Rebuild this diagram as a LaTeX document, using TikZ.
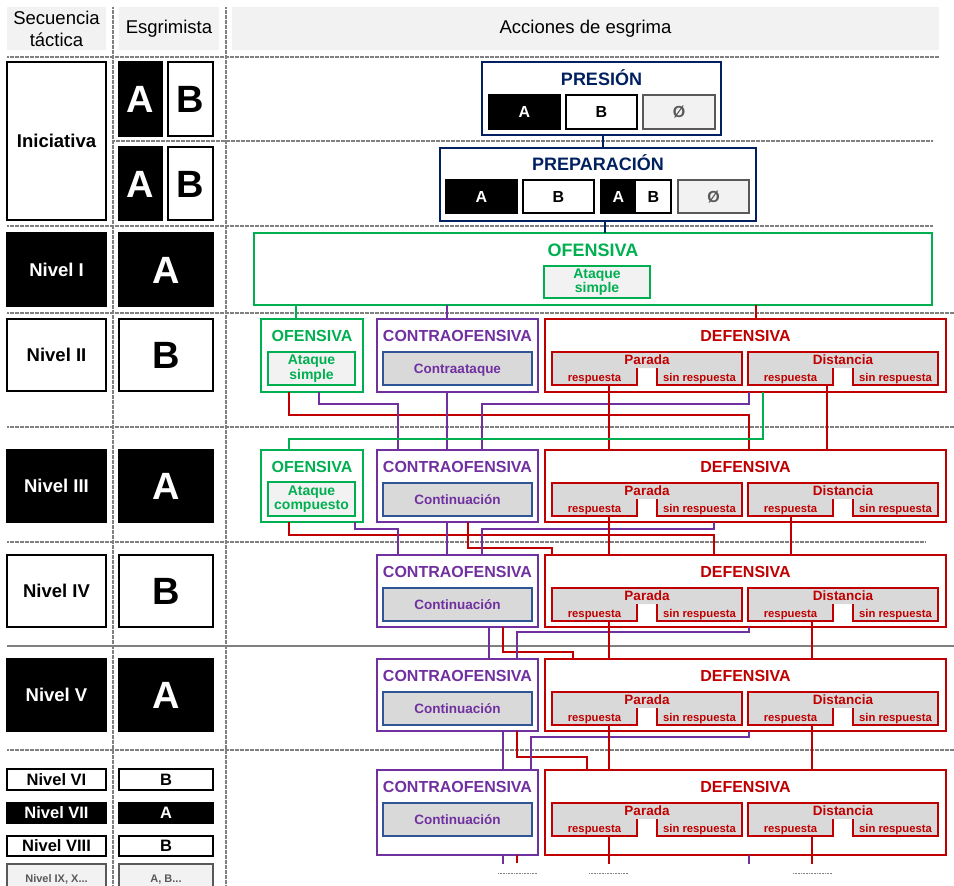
\documentclass[tikz,border=0pt]{standalone}
\usepackage{fontspec}
\setmainfont{Liberation Sans}
\usepackage{xcolor}
\usepackage{tikz}

\definecolor{navyc}{HTML}{002060}
\definecolor{greenc}{HTML}{00B050}
\definecolor{purpc}{HTML}{7030A0}
\definecolor{redc}{HTML}{C00000}
\definecolor{bluec}{HTML}{2F5597}
\definecolor{lgray}{HTML}{F2F2F2}
\definecolor{mgray}{HTML}{D9D9D9}
\definecolor{sepgray}{HTML}{808080}
\definecolor{dgray}{HTML}{595959}

\begin{document}
\begin{tikzpicture}[
    x=1pt, y=-1pt,
    font=\fontsize{14}{16}\selectfont,
    wh/.style 2 args={minimum width=#1pt, minimum height=#2pt, anchor=north west, inner sep=0pt, outer sep=0pt},
    hdr/.style={fill=lgray, align=center, font=\fontsize{18.5}{22}\selectfont},
    gridline/.style={draw=sepgray, line width=1.5pt, dash pattern=on 2pt off 0.5pt},
    cell/.style={draw=black, line width=1.8pt, fill=white, text height=13.3pt, text depth=0pt, font=\bfseries\fontsize{18.5}{20}\selectfont},
    darkcell/.style={fill=black, text=white},
    bigcell/.style={text height=27.4pt, font=\bfseries\fontsize{38}{40}\selectfont},
    smallcell/.style={text height=11.9pt, font=\bfseries\fontsize{16.5}{18}\selectfont},
    restcell/.style={draw=dgray, fill=lgray, text=dgray, text height=7.9pt, font=\bfseries\fontsize{11}{12}\selectfont},
    actframe/.style={draw, line width=1.6pt, inner sep=0pt, outer sep=0pt},
    ttl/.style={inner sep=0pt, text height=11.5pt, text depth=0pt, font=\bfseries\fontsize{16}{18}\selectfont},
    bigttl/.style={ttl, text height=13pt, font=\bfseries\fontsize{18}{20}\selectfont},
    letbox/.style={draw=black, line width=1.6pt, fill=white, text height=11.5pt, text depth=0pt, font=\bfseries\fontsize{16}{18}\selectfont},
    nullbox/.style={letbox, draw=dgray, fill=lgray, text=dgray},
    lettxt/.style={inner sep=0pt, text height=11.5pt, text depth=0pt, font=\bfseries\fontsize{16}{18}\selectfont},
    osub/.style={draw=greenc, line width=1.6pt, fill=lgray, text=greenc, align=center, font=\bfseries\fontsize{14}{14.7}\selectfont},
    csub/.style={draw=bluec, line width=1.6pt, fill=mgray, text=purpc, text height=9.7pt, text depth=0pt, font=\bfseries\fontsize{13.5}{15}\selectfont},
    dhead/.style={inner sep=0pt, text=redc, text height=9.7pt, text depth=0pt, font=\bfseries\fontsize{13.5}{15}\selectfont},
    dsub/.style={text=redc, text height=9pt, text depth=0pt, font=\bfseries\fontsize{11.3}{12}\selectfont},
    nl/.style={draw=navyc, line width=1.4pt},
    gl/.style={draw=greenc, line width=1.4pt},
    pl/.style={draw=purpc, line width=1.4pt},
    rl/.style={draw=redc, line width=1.4pt}
  ]
    \useasboundingbox (0,0) rectangle (954,886);

    % Grid
    \draw[gridline] (7,57) -- (939,57);
    \draw[gridline] (113,141) -- (933,141);
    \draw[gridline] (7,226) -- (933,226);
    \draw[gridline] (7,313) -- (954,313);
    \draw[gridline] (7,427) -- (954,427);
    \draw[gridline] (7,542) -- (926,542);
    \draw[gridline, solid] (7,646) -- (954,646);
    \draw[gridline] (7,750) -- (954,750);
    \draw[gridline] (113,7) -- (113,886);
    \draw[gridline] (226,7) -- (226,886);

    % Headers
    \node[hdr, wh={99}{43}] (hsec) at (7,7) {Secuencia\\táctica};
    \node[hdr, wh={100}{43}] (hesg) at (119,7) {Esgrimista};
    \node[hdr, wh={707}{43}] (hacc) at (232,7) {Acciones de esgrima};

    % Tactical sequence and fencer
    \node[cell, wh={99}{158}] (ini) at (7,62) {Iniciativa};
    \node[cell, darkcell, bigcell, wh={43}{74}] (ea1) at (119,62) {A};
    \node[cell, bigcell, wh={45}{74}] (eb1) at (168,62) {B};
    \node[cell, darkcell, bigcell, wh={43}{73}] (ea2) at (119,147) {A};
    \node[cell, bigcell, wh={45}{73}] (eb2) at (168,147) {B};

    \node[cell, darkcell, wh={99}{73}] (n1) at (7,233) {Nivel I};
    \node[cell, darkcell, bigcell, wh={94}{73}] (e1) at (119,233) {A};
    \node[cell, wh={99}{72}] (n2) at (7,319) {Nivel II};
    \node[cell, bigcell, wh={94}{72}] (e2) at (119,319) {B};
    \node[cell, darkcell, wh={99}{72}] (n3) at (7,450) {Nivel III};
    \node[cell, darkcell, bigcell, wh={94}{72}] (e3) at (119,450) {A};
    \node[cell, wh={99}{72}] (n4) at (7,555) {Nivel IV};
    \node[cell, bigcell, wh={94}{72}] (e4) at (119,555) {B};
    \node[cell, darkcell, wh={99}{72}] (n5) at (7,659) {Nivel V};
    \node[cell, darkcell, bigcell, wh={94}{72}] (e5) at (119,659) {A};

    \node[cell, smallcell, wh={99}{21}] (n6) at (7,769) {Nivel VI};
    \node[cell, smallcell, wh={94}{21}] (e6) at (119,769) {B};
    \node[cell, darkcell, smallcell, wh={99}{20}] (n7) at (7,803) {Nivel VII};
    \node[cell, darkcell, smallcell, wh={94}{20}] (e7) at (119,803) {A};
    \node[cell, smallcell, wh={99}{20}] (n8) at (7,836) {Nivel VIII};
    \node[cell, smallcell, wh={94}{20}] (e8) at (119,836) {B};
    \node[cell, restcell, wh={99}{30}] (n9) at (7,864) {Nivel IX, X...};
    \node[cell, restcell, wh={94}{30}] (e9) at (119,864) {A, B...};

    % Presion
    \node[actframe, draw=navyc, wh={239}{73}] (pres) at (482,62) {};
    \node[bigttl, text=navyc] (prest) at ([yshift=-17pt]pres.north) {PRESIÓN};
    \node[letbox, fill=black, text=white, wh={71}{34}] (pa) at (489,95) {A};
    \node[letbox, wh={71}{34}] (pb) at (566,95) {B};
    \node[nullbox, wh={72}{34}] (pn) at (643,95) {Ø};

    % Preparacion
    \node[actframe, draw=navyc, wh={316}{73}] (prep) at (440,148) {};
    \node[bigttl, text=navyc] (prept) at ([yshift=-16pt]prep.north) {PREPARACIÓN};
    \node[letbox, fill=black, text=white, wh={71}{33}] (qa) at (446,180) {A};
    \node[letbox, wh={71}{33}] (qb) at (523,180) {B};
    \node[letbox, wh={70}{33}] (qab) at (601,180) {};
    \fill (qab.north west) rectangle (qab.south);
    \node[lettxt, text=white] (qabA) at (618.5,196.5) {A};
    \node[lettxt] (qabB) at (653.5,196.5) {B};
    \node[nullbox, wh={71}{33}] (qn) at (678,180) {Ø};

    % Ofensiva (Nivel I)
    \node[actframe, draw=greenc, wh={678}{72}] (of1) at (254,233) {};
    \node[bigttl, text=greenc] (of1t) at ([yshift=-17pt]of1.north) {OFENSIVA};
    \node[osub, wh={106}{32}] (of1s) at (544,266) {Ataque\\simple};

    % Ofensiva (Nivel II, III)
    \node[actframe, draw=greenc, wh={102}{73}] (of2) at (261,319) {};
    \node[ttl, text=greenc] (of2t) at ([yshift=-17pt]of2.north) {OFENSIVA};
    \node[osub, wh={87}{33}] (of2s) at (268,352) {Ataque\\simple};
    \node[actframe, draw=greenc, wh={102}{72}] (of3) at (261,450) {};
    \node[ttl, text=greenc] (of3t) at ([yshift=-17pt]of3.north) {OFENSIVA};
    \node[osub, wh={87}{34}] (of3s) at (268,482) {Ataque\\compuesto};

    % Contraofensiva and Defensiva per level
    \foreach \n/\t/\h/\s in {2/319/73/Contraataque, 3/450/72/Continuación, 4/555/72/Continuación, 5/659/72/Continuación, 6/770/85/Continuación} {
      \node[actframe, draw=purpc, wh={161}{\h}] (co\n) at (377,\t) {};
      \node[ttl, text=purpc] (cot\n) at ([yshift=-17pt]co\n.north) {CONTRAOFENSIVA};
      \node[csub, wh={149}{33}] (cos\n) at (383,{\t+33}) {\s};

      \node[actframe, draw=redc, wh={401}{\h}] (de\n) at (545,\t) {};
      \node[ttl, text=redc] (det\n) at ([yshift=-17pt]de\n.north) {DEFENSIVA};
      \foreach \dx/\nm/\hd in {0/pr/Parada, 196/dr/Distancia} {
        \fill[mgray] ({552+\dx},{\t+33}) -- ({742+\dx},{\t+33}) -- ({742+\dx},{\t+66}) -- ({657+\dx},{\t+66})
          -- ({657+\dx},{\t+49}) -- ({637+\dx},{\t+49}) -- ({637+\dx},{\t+66}) -- ({552+\dx},{\t+66}) -- cycle;
        \draw[redc, line width=1.6pt] ({637+\dx},{\t+49}) -- ({637+\dx},{\t+66}) -- ({552+\dx},{\t+66}) -- ({552+\dx},{\t+33})
          -- ({742+\dx},{\t+33}) -- ({742+\dx},{\t+66}) -- ({657+\dx},{\t+66}) -- ({657+\dx},{\t+49});
        \node[dhead] (h\nm\n) at ({647+\dx},{\t+41}) {\hd};
        \node[dsub, wh={85}{17}] (\nm\n) at ({552+\dx},{\t+49}) {respuesta};
        \node[dsub, wh={85}{17}] (s\nm\n) at ({657+\dx},{\t+49}) {sin respuesta};
      }
    }

    % Iniciativa -> Nivel I
    \draw[nl] (pres.south -| 603,0) -- (prep.north -| 603,0);
    \draw[nl] (prep.south -| 605,0) -- (of1.north -| 605,0);

    % Nivel I -> Nivel II
    \draw[gl] (of1.south -| 296,0) -- (of2.north -| 296,0);
    \draw[pl] (of1.south -| 447,0) -- (co2.north -| 447,0);
    \draw[rl] (of1.south -| 756,0) -- (de2.north -| 756,0);

    % Nivel II -> Nivel III
    \draw[rl] (of2.south -| 289,0) |- (749,415) -- (de3.north -| 749,0);
    \draw[pl] (of2.south -| 319,0) |- (398,404) -- (co3.north -| 398,0);
    \draw[pl] (co2.south -| 447,0) -- (co3.north -| 447,0);
    \draw[pl] (de2.south -| 749,0) |- (482,404) -- (co3.north -| 482,0);
    \draw[rl] (pr2.south -| 609,0) -- (de3.north -| 609,0);
    \draw[gl] (de2.south -| 763,0) |- (289,439) -- (of3.north -| 289,0);
    \draw[rl] (dr2.south -| 827,0) -- (de3.north -| 827,0);

    % Nivel III -> Nivel IV
    \draw[rl] (of3.south -| 289,0) |- (714,535) -- (de4.north -| 714,0);
    \draw[pl] (of3.south -| 355,0) |- (398,529) -- (co4.north -| 398,0);
    \draw[pl] (co3.south -| 447,0) -- (co4.north -| 447,0);
    \draw[rl] (co3.south -| 468,0) |- (552,548) -- (de4.north -| 552,0);
    \draw[pl] (de3.south -| 714,0) |- (482,529) -- (co4.north -| 482,0);
    \draw[rl] (pr3.south -| 609,0) -- (de4.north -| 609,0);
    \draw[rl] (dr3.south -| 791,0) -- (de4.north -| 791,0);

    % Nivel IV -> Nivel V
    \draw[pl] (co4.south -| 489,0) -- (co5.north -| 489,0);
    \draw[rl] (co4.south -| 503,0) |- (573,652) -- (de5.north -| 573,0);
    \draw[pl] (de4.south -| 749,0) |- (517,632) -- (co5.north -| 517,0);
    \draw[rl] (pr4.south -| 609,0) -- (de5.north -| 609,0);
    \draw[rl] (dr4.south -| 812,0) -- (de5.north -| 812,0);

    % Nivel V -> Nivel VI
    \draw[pl] (co5.south -| 503,0) -- (co6.north -| 503,0);
    \draw[rl] (co5.south -| 517,0) |- (587,757) -- (de6.north -| 587,0);
    \draw[pl] (de5.south -| 749,0) |- (531,737) -- (co6.north -| 531,0);
    \draw[rl] (pr5.south -| 609,0) -- (de6.north -| 609,0);
    \draw[rl] (dr5.south -| 812,0) -- (de6.north -| 812,0);

    % Open ends
    \draw[pl] (co6.south -| 503,0) -- ++(0,9);
    \draw[rl] (co6.south -| 517,0) -- ++(0,8);
    \draw[rl] (pr6.south -| 609,0) -- ++(0,28);
    \draw[pl] (de6.south -| 749,0) -- ++(0,9);
    \draw[rl] (dr6.south -| 812,0) -- ++(0,28);
    \draw[sepgray, line width=0.6pt, densely dotted] (498,873) -- (537,873);
    \draw[sepgray, line width=0.6pt, densely dotted] (589,873) -- (628,873);
    \draw[sepgray, line width=0.6pt, densely dotted] (793,873) -- (832,873);
  \end{tikzpicture}
\end{document}
